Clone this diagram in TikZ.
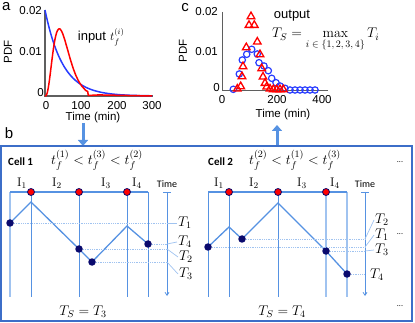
\documentclass[tikz,border=0pt]{standalone}
\usepackage{fix-cm}
\usepackage{fontspec}
\newfontfamily\arialfont{Liberation Sans}
\newfontfamily\calfont{Carlito}
\usetikzlibrary{arrows.meta}
\definecolor{cellblue}{RGB}{86,146,226}
\definecolor{levelblue}{RGB}{160,195,240}
\definecolor{frameblue}{RGB}{60,110,200}
\definecolor{dotnavy}{RGB}{10,10,110}
\definecolor{axisgrey}{RGB}{95,95,95}
\definecolor{pdfblue}{RGB}{40,60,255}
\begin{document}
\begin{tikzpicture}[x=1pt, y=-1pt,
    panellbl/.style={font=\arialfont\fontsize{15}{15}\selectfont, inner sep=0pt},
    ticklbl/.style={font=\arialfont\fontsize{11.5}{12}\selectfont, inner sep=1pt},
    axislbl/.style={font=\arialfont\fontsize{11.5}{12}\selectfont, inner sep=1pt},
    notelbl/.style={font=\arialfont\fontsize{13}{13}\selectfont, inner sep=0pt},
    axisline/.style={draw=axisgrey, line width=1.6},
    thinaxis/.style={draw=axisgrey, line width=0.9},
    pdfexp/.style={draw=pdfblue, line width=1.5},
    pdfgam/.style={draw=red, line width=1.5},
    circmark/.style={draw=pdfblue, line width=1.2},
    trimark/.style={draw=red, line width=1.3},
    framebox/.style={draw=frameblue, line width=1.3},
    flowarrow/.style={draw=cellblue, line width=3, -{Triangle[length=6pt, width=10pt]}},
    topline/.style={draw=cellblue, line width=2.6},
    edgeline/.style={draw=levelblue, line width=1.8},
    divline/.style={draw=cellblue, line width=0.8},
    traj/.style={draw=cellblue, line width=1.3},
    level/.style={draw=levelblue, line width=0.8, densely dotted},
    leader/.style={draw=levelblue, line width=0.7},
    timeaxis/.style={draw=cellblue, line width=0.8, -{Straight Barb[length=3pt, width=4pt]}},
    navydot/.style={circle, fill=dotnavy, inner sep=0pt, minimum size=7.5pt},
    reddot/.style={circle, fill=red, draw=dotnavy, line width=0.8, inner sep=0pt, minimum size=7pt},
    cellname/.style={font=\calfont\bfseries\fontsize{11}{11}\selectfont, inner sep=0pt},
    timelbl/.style={font=\calfont\fontsize{10}{10}\selectfont, inner sep=0pt},
    mathlbl/.style={font=\fontsize{14}{14}\selectfont, inner sep=1pt},
    intlbl/.style={font=\fontsize{12.5}{12.5}\selectfont, inner sep=0pt},
    dotslbl/.style={font=\calfont\fontsize{8}{8}\selectfont, inner sep=0pt}
  ]
  \useasboundingbox (0,0) rectangle (415,323);

  % Panel a: input distributions
  \node[panellbl, anchor=north west] (la) at (2,2) {a};
  \coordinate (aO) at (45,96);
  \coordinate (aX) at (153,96);
  \coordinate (aY) at (45,10);
  \draw[axisline] (aY) -- (aO) -- (aX);
  \draw[pdfexp] plot[domain=0:300, samples=120] ({45+0.357*\x}, {96-86*exp(-\x/50)});
  \draw[pdfgam] plot[domain=0:150, samples=100]
    ({45+0.357*\x}, {96-50*exp(-\x/13.333)*(\x/13.333)*(\x/13.333)*(\x/13.333)})
    -- (152,96);
  \node[ticklbl, anchor=east] (ay2) at (43,11) {0.02};
  \node[ticklbl, anchor=east] (ay1) at (43,52) {0.01};
  \node[ticklbl, anchor=east] (ay0) at (45,93) {0};
  \foreach \t/\xx in {0/46,100/81,200/117,300/152}
    \node[ticklbl] (ax\t) at (\xx,106) {\t};
  \node[axislbl] (atime) at (93,118) {Time (min)};
  \node[axislbl, rotate=90] (apdf) at (8,52) {PDF};
  \node[notelbl, anchor=base] (ainput) at (92,41) {input};
  \node[mathlbl, anchor=base west, font=\fontsize{12}{12}\selectfont] (atf) at (109,41) {$t_f^{(i)}$};

  % Panel c: output distribution
  \node[panellbl, anchor=north] (lc) at (185,3) {c};
  \coordinate (cO) at (222,90);
  \coordinate (cX) at (328,90);
  \coordinate (cY) at (222,12);
  \draw[thinaxis] (cY) -- (cO) -- (cX);
  \foreach \px/\py in {233.3/89.3, 239.3/74, 242.3/60, 246.7/54.3, 251.7/49.3, 257.3/54,
      259/62.7, 264/66, 268.3/70.7, 271.7/78.3, 276/82.7, 280/86, 285/88.3,
      290/90, 295/90, 300/90, 305/90, 310/90, 315/90}
    \draw[circmark] (\px,\py) circle (3.2pt);
  \foreach \px/\py in {237.3/88.7, 240.7/86.3, 242/76.3, 243/66.3, 246.3/47.3, 249/25,
      251/16.3, 254.3/25, 257.3/41.7, 260/54.3, 261.7/68.3, 263/76.7, 265/83,
      266.7/86.7, 270/88.7, 273.3/89.3, 276.7/89.3, 280/89.3, 283.3/89.3}
    \draw[trimark] (\px,\py) ++(0,-4.2) -- ++(3.8,6.6) -- ++(-7.6,0) -- cycle;
  \node[ticklbl, anchor=east] (cy2) at (219,12) {0.02};
  \node[ticklbl, anchor=east] (cy1) at (219,52) {0.01};
  \node[ticklbl, anchor=east] (cy0) at (221,88) {0};
  \foreach \t/\xx in {0/222,200/277,400/322}
    \node[ticklbl] (cx\t) at (\xx,100) {\t};
  \node[axislbl] (ctime) at (283,115) {Time (min)};
  \node[axislbl, rotate=90] (cpdf) at (183,51) {PDF};
  \node[notelbl] (coutput) at (292,16) {output};
  \node[mathlbl, anchor=base west] (cmax) at (271,38)
    {$T_S=\max\limits_{\hbox{\fontsize{10}{10}\selectfont$i\in\{1,2,3,4\}$}}T_i$};

  % Arrows between the panels
  \coordinate (downA) at (83,123);
  \coordinate (downB) at (83,146);
  \coordinate (upA) at (277,147);
  \coordinate (upB) at (277,125);
  \draw[flowarrow] (downA) -- (downB);
  \draw[flowarrow] (upA) -- (upB);

  % Panel b: frame
  \node[panellbl] (lb) at (9,133) {b};
  \coordinate (bNW) at (1,146);
  \coordinate (bSE) at (412,321);
  \draw[framebox] (bNW) rectangle (bSE);

  % Cell 1
  \node[cellname, anchor=base west] (cell1) at (8,166) {Cell 1};
  \node[mathlbl, anchor=base] (ord1) at (97,165) {$t_f^{(1)}<t_f^{(3)}<t_f^{(2)}$};
  \foreach \xx/\k in {22/1,57/2,106/3,137/4}
    \node[intlbl, anchor=base] (i1\k) at (\xx,187) {$\mathrm{I}_\k$};
  \draw[edgeline] (10,192) -- (10,297);
  \foreach \xx in {31,79,127,148}
    \draw[divline] (\xx,192) -- (\xx,297);
  \draw[topline] (10,192) -- (148,192);
  \foreach \xx/\k in {31/1,79/2,127/3}
    \node[reddot] (r1\k) at (\xx,192) {};
  \coordinate (p1a) at (10,223);
  \coordinate (p1b) at (31,202);
  \coordinate (p1c) at (79,249);
  \coordinate (p1d) at (92,262);
  \coordinate (p1e) at (127,226);
  \coordinate (p1f) at (148,244);
  \draw[traj] (p1a) -- (p1b) -- (p1c) -- (p1d) -- (p1e) -- (p1f);
  \coordinate (tax1) at (167,192);
  \coordinate (tbot1) at (167,296);
  \draw[timeaxis] (tax1) -- (tbot1);
  \draw[divline] (163,192) -- (171,192);
  \node[timelbl] (time1) at (167,184) {Time};
  \node[navydot] (d1T1) at (p1a) {};
  \node[navydot] (d1T2) at (p1c) {};
  \node[navydot] (d1T3) at (p1d) {};
  \node[navydot] (d1T4) at (p1f) {};
  \draw[level] (d1T1) -- (d1T1 -| tax1);
  \draw[level] (d1T2) -- (d1T2 -| tax1);
  \draw[level] (d1T3) -- (d1T3 -| tax1);
  \draw[level] (d1T4) -- (d1T4 -| tax1);
  \node[mathlbl, anchor=west] (l1T1) at (177,223) {$T_1$};
  \node[mathlbl, anchor=west] (l1T4) at (177,242) {$T_4$};
  \node[mathlbl, anchor=west] (l1T2) at (178,257) {$T_2$};
  \node[mathlbl, anchor=west] (l1T3) at (178,274) {$T_3$};
  \draw[leader] (d1T1 -| tax1) -- (l1T1.west);
  \draw[leader] (d1T4 -| tax1) -- (l1T4.west);
  \draw[leader] (d1T2 -| tax1) -- (l1T2.west);
  \draw[leader] (d1T3 -| tax1) -- (l1T3.west);
  \node[mathlbl] (ts1) at (83,312) {$T_S=T_3$};

  % Cell 2
  \node[cellname, anchor=base west] (cell2) at (208,166) {Cell 2};
  \node[mathlbl, anchor=base] (ord2) at (295,165) {$t_f^{(2)}<t_f^{(1)}<t_f^{(3)}$};
  \foreach \xx/\k in {219/1,254/2,302/3,335/4}
    \node[intlbl, anchor=base] (i2\k) at (\xx,187) {$\mathrm{I}_\k$};
  \foreach \xx in {208,229,278}
    \draw[divline] (\xx,192) -- (\xx,297);
  \draw[edgeline] (326,192) -- (326,297);
  \draw[edgeline] (347,192) -- (347,297);
  \draw[topline] (208,192) -- (347,192);
  \foreach \xx/\k in {229/1,278/2,326/3}
    \node[reddot] (r2\k) at (\xx,192) {};
  \coordinate (p2a) at (208,247);
  \coordinate (p2b) at (229,227);
  \coordinate (p2c) at (242,239);
  \coordinate (p2d) at (278,203);
  \coordinate (p2e) at (326,251);
  \coordinate (p2f) at (347,274);
  \draw[traj] (p2a) -- (p2b) -- (p2c) -- (p2d) -- (p2e) -- (p2f);
  \coordinate (tax2) at (365,192);
  \coordinate (tbot2) at (365,296);
  \draw[timeaxis] (tax2) -- (tbot2);
  \draw[divline] (361,192) -- (369,192);
  \node[timelbl] (time2) at (365,184) {Time};
  \node[navydot] (d2T1) at (p2a) {};
  \node[navydot] (d2T2) at (p2c) {};
  \node[navydot] (d2T3) at (p2e) {};
  \node[navydot] (d2T4) at (p2f) {};
  \draw[level] (d2T1) -- (d2T1 -| tax2);
  \draw[level] (d2T2) -- (d2T2 -| tax2);
  \draw[level] (d2T3) -- (d2T3 -| tax2);
  \draw[level] (d2T4) -- (d2T4 -| tax2);
  \node[mathlbl, anchor=west] (l2T2) at (374,220) {$T_2$};
  \node[mathlbl, anchor=west] (l2T1) at (374,235) {$T_1$};
  \node[mathlbl, anchor=west] (l2T3) at (374,250) {$T_3$};
  \node[mathlbl, anchor=west] (l2T4) at (369,275) {$T_4$};
  \draw[leader] (d2T2 -| tax2) -- (l2T2.west);
  \draw[leader] (d2T1 -| tax2) -- (l2T1.west);
  \draw[leader] (d2T3 -| tax2) -- (l2T3.west);
  \node[mathlbl] (ts2) at (282,312) {$T_S=T_4$};

  % More cells
  \node[dotslbl] (more1) at (400,162) {...};
  \node[dotslbl] (more2) at (400,234) {...};
  \node[dotslbl] (more3) at (400,306) {...};
\end{tikzpicture}
\end{document}
